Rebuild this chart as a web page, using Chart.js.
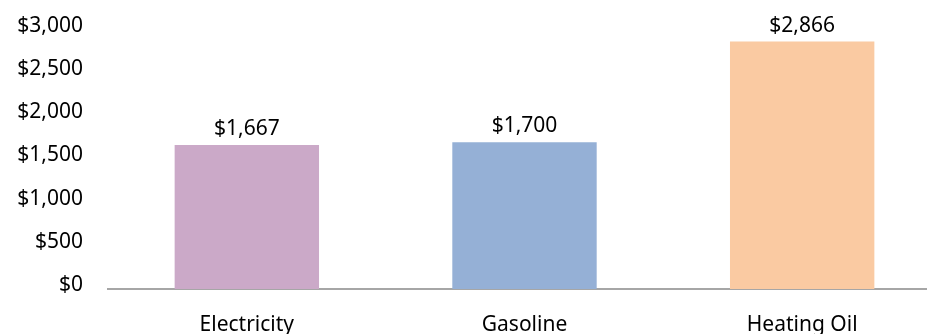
<!DOCTYPE html>
<html>
<head>
<meta charset="utf-8">
<script src="https://cdn.jsdelivr.net/npm/chart.js@4"></script>
<style>
  html, body { margin: 0; padding: 0; background: #fff; overflow: hidden; }
  #wrap { width: 945px; height: 334px; }
</style>
</head>
<body>
<div id="wrap"><canvas id="costChart" width="945" height="334"></canvas></div>
<script>
const categories = ['Electricity', 'Gasoline', 'Heating Oil'];
const costs = [1667, 1700, 2866];
const barColors = ['#CBA9C8', '#95B0D6', '#FACAA2'];
const yTicks = [0, 500, 1000, 1500, 2000, 2500, 3000];

const money = v => '$' + v.toLocaleString('en-US');

// prints the dollar amount above every bar
const valueLabels = {
    id: 'valueLabels',
    afterDatasetsDraw(chart) {
        const { ctx } = chart;
        const meta = chart.getDatasetMeta(0);
        ctx.save();
        ctx.font = '21px "Noto Sans"';
        ctx.fillStyle = '#000';
        ctx.textAlign = 'center';
        ctx.textBaseline = 'middle';
        meta.data.forEach((bar, i) => {
            ctx.fillText(money(costs[i]), bar.x, bar.y - 16);
        });
        ctx.restore();
    }
};

const ctx = document.getElementById('costChart').getContext('2d');
new Chart(ctx, {
    type: 'bar',
    data: {
        labels: categories,
        datasets: [{
            data: costs,
            backgroundColor: barColors,
            categoryPercentage: 1,
            barPercentage: 0.52
        }]
    },
    options: {
        responsive: false,
        animation: false,
        layout: { padding: { top: 30, right: 4, bottom: 0, left: 0 } },
        plugins: {
            legend: { display: false },
            tooltip: { enabled: false }
        },
        scales: {
            x: {
                afterFit: scale => { scale.height = 45; },
                grid: { display: false, drawTicks: false },
                border: { display: true, color: '#A6A6A6', width: 2 },
                ticks: { color: '#000', padding: 23, font: { family: 'Noto Sans', size: 21 } }
            },
            y: {
                min: 0,
                max: 3000,
                afterBuildTicks: scale => { scale.ticks = yTicks.map(v => ({ value: v })); },
                afterFit: scale => {
                    scale.width = 108;
                    scale.paddingTop = 0;
                    scale.paddingBottom = 0;
                },
                grid: { display: false, drawTicks: false },
                border: { display: false },
                ticks: {
                    color: '#000',
                    padding: 25,
                    labelOffset: -4,
                    font: { family: 'Noto Sans', size: 21 },
                    callback: v => money(v)
                }
            }
        }
    },
    plugins: [valueLabels]
});
</script>
</body>
</html>
